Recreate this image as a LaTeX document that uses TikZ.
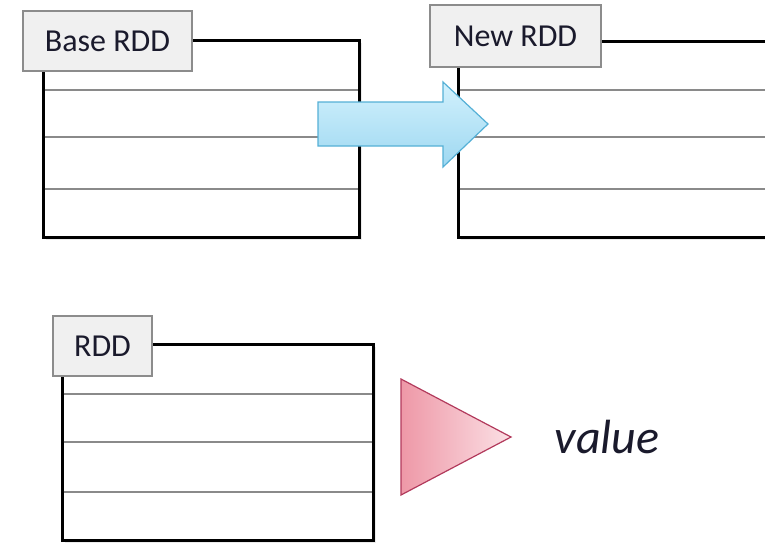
\documentclass[tikz,border=0pt]{standalone}
\usepackage{fontspec}
\setmainfont{Carlito}
\usetikzlibrary{shadows}
\definecolor{lblfill}{HTML}{F0F0F0}
\definecolor{lbldraw}{HTML}{8C8C8C}
\definecolor{rowgray}{HTML}{8A8A8A}
\definecolor{txt}{HTML}{1A1A2C}
\definecolor{bluetop}{HTML}{D2F1FD}
\definecolor{bluebot}{HTML}{9ED8F1}
\definecolor{blueedge}{HTML}{55B0D6}
\definecolor{redleft}{HTML}{EE98A7}
\definecolor{redright}{HTML}{FBE0E5}
\definecolor{rededge}{HTML}{B23A5C}
\begin{document}
\begin{tikzpicture}[x=1pt,y=-1pt,
  tableframe/.style={draw=black,line width=3pt,fill=white},
  rowline/.style={draw=rowgray,line width=1.6pt},
  lbl/.style={draw=lbldraw,fill=lblfill,line width=1.5pt,inner sep=0pt,
    text=txt,font=\fontsize{32}{38}\selectfont},
  bigarrow/.style={draw=blueedge,line width=1.2pt,top color=bluetop,bottom color=bluebot},
  tri/.style={draw=rededge,line width=1.2pt,left color=redleft,right color=redright},
  valtext/.style={text=txt,font=\fontsize{48}{56}\selectfont\itshape}]
\useasboundingbox (0,0) rectangle (765,542);
\begin{scope}
\clip (0,0) rectangle (765,542);
% Base RDD table
\fill[black!8] (46,43) rectangle (362,240);
\draw[tableframe] (43,40) rectangle (359,237);
\foreach \yy in {90,137,189} \draw[rowline] (44.5,\yy) -- (357.5,\yy);
\node[lbl,minimum width=169,minimum height=60] (base) at (107.5,41) {Base RDD};
% New RDD table
\fill[black!8] (461,44) rectangle (790,240);
\draw[tableframe] (458,41) rectangle (790,237);
\foreach \yy in {90,137,189} \draw[rowline] (459.5,\yy) -- (790,\yy);
\node[lbl,minimum width=171,minimum height=62] (new) at (515.5,36) {New RDD};
% transformation arrow
\draw[bigarrow] (318,102) -- (443,102) -- (443,82) -- (488,124) -- (443,167) -- (443,146) -- (318,146) -- cycle;
% RDD table
\fill[black!8] (65,347) rectangle (376,545);
\draw[tableframe] (62,344) rectangle (373,540);
\foreach \yy in {394,442,492} \draw[rowline] (63.5,\yy) -- (371.5,\yy);
\node[lbl,minimum width=99,minimum height=60] (rdd) at (102.5,346) {RDD};
% action triangle and value
\draw[tri] (401,379) -- (511,437) -- (401,495) -- cycle;
\node[valtext] (value) at (607,437) {value};
\end{scope}
\end{tikzpicture}
\end{document}
